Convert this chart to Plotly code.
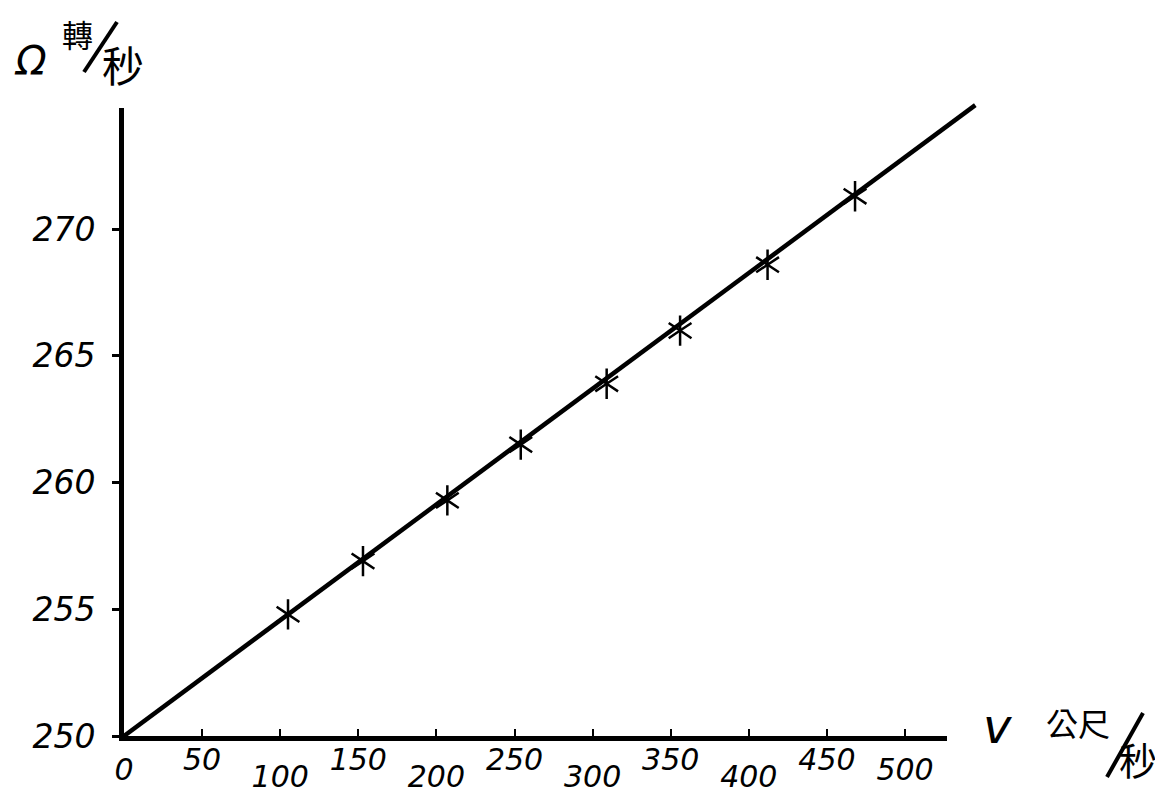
import plotly.graph_objects as go

# ---------------- data ----------------
speed_v = [105, 153, 207, 254, 309, 356, 412, 468]                 # v, 公尺/秒
omega = [254.8, 256.9, 259.3, 261.5, 263.9, 266.0, 268.6, 271.3]   # Ω, 轉/秒
fit_v = [0, 545]
fit_omega = [250, 274.9]

x_labels_high = [50, 150, 250, 350, 450]
x_labels_mid = [0, 500]
x_labels_low = [100, 200, 300, 400]
y_tick_vals = [250, 255, 260, 265, 270]

# ---------------- geometry (reference pixels) ----------------
OFF = 8                      # default page margin of the html body
W_FIG, H_FIG = 1163 - 10, 801 - 16
plot_left, plot_right = 124, 980
plot_top, plot_bottom = 100, 736
L = plot_left - OFF
R = W_FIG - (plot_right - OFF)
T = plot_top - OFF
B = H_FIG - (plot_bottom - OFF)
PW, PH = W_FIG - L - R, H_FIG - T - B

X_MAX = 548.0
Y_MIN, Y_MAX = 250.0, 275.1
x_axis_end = 527.0
y_axis_end = 274.8
dx = x_axis_end / X_MAX
dy = (y_axis_end - Y_MIN) / (Y_MAX - Y_MIN)

def px(xp):
    return (xp - OFF - L) / PW

def py(yp):
    return (H_FIG - B - (yp - OFF)) / PH

FONT = "DejaVu Sans"
CJK = "Noto Sans CJK TC"

fig = go.Figure()

fig.add_trace(go.Scatter(x=fit_v, y=fit_omega, mode="lines",
                         line=dict(color="black", width=4.5),
                         xaxis="x", yaxis="y", showlegend=False, hoverinfo="skip"))
for sym in ["y-up-open", "y-down-open"]:
    fig.add_trace(go.Scatter(x=speed_v, y=omega, mode="markers",
                             marker=dict(symbol=sym, size=19, color="black",
                                         line=dict(color="black", width=2.5)),
                             xaxis="x", yaxis="y", showlegend=False))
for xa in ["x2", "x3", "x4"]:
    fig.add_trace(go.Scatter(x=[None], y=[None], xaxis=xa, yaxis="y2",
                             showlegend=False, hoverinfo="skip"))

x_font = dict(family=FONT, size=30, color="black", style="italic")
y_font = dict(family=FONT, size=33, color="black", style="italic")

common_x = dict(range=[0, x_axis_end], anchor="y2", showgrid=False, zeroline=False,
                automargin=False,
                ticks="inside", ticklen=7, tickwidth=2, tickcolor="black",
                tickfont=x_font)

fig.update_layout(
    width=W_FIG, height=H_FIG, autosize=False,
    margin=dict(l=L, r=R, t=T, b=B, autoexpand=False),
    paper_bgcolor="white", plot_bgcolor="rgba(0,0,0,0)",
    showlegend=False,
    xaxis=dict(domain=[0, 1], range=[0, X_MAX], visible=False, anchor="y",
               automargin=False),
    yaxis=dict(domain=[0, 1], range=[Y_MIN, Y_MAX], visible=False, anchor="x",
               automargin=False),
    xaxis2=dict(domain=[0, dx], showline=True, linecolor="black", linewidth=5,
                tickvals=x_labels_high, ticktext=[str(v) for v in x_labels_high],
                ticklabelstandoff=-7, **common_x),
    xaxis3=dict(overlaying="x2", showline=False,
                tickvals=x_labels_mid, ticktext=[str(v) for v in x_labels_mid],
                ticklabelstandoff=13, **common_x),
    xaxis4=dict(overlaying="x2", showline=False,
                tickvals=x_labels_low, ticktext=[str(v) for v in x_labels_low],
                ticklabelstandoff=20, **common_x),
    yaxis2=dict(domain=[0, dy], range=[Y_MIN, y_axis_end], anchor="x2",
                showline=True, linecolor="black", linewidth=5,
                showgrid=False, zeroline=False, automargin=False,
                ticks="outside", ticklen=7, tickwidth=3, tickcolor="black",
                tickvals=y_tick_vals, ticktext=[str(v) for v in y_tick_vals],
                tickfont=y_font, ticklabelstandoff=10),
)

def note(text, xp, yp, size, family=FONT, italic=False):
    fig.add_annotation(text=text, x=px(xp), y=py(yp), xref="paper", yref="paper",
                       xanchor="center", yanchor="middle", showarrow=False,
                       font=dict(family=family, size=size, color="black",
                                 style="italic" if italic else "normal"))

def slash(x0, y0, x1, y1):
    fig.add_shape(type="line", xref="paper", yref="paper",
                  x0=px(x0), y0=py(y0), x1=px(x1), y1=py(y1),
                  line=dict(color="black", width=4))

# y-axis title: Ω 轉/秒
note("Ω", 30, 61, 40, italic=True)
note("轉", 77, 34, 31, family=CJK)
slash(84, 72, 117, 22)
note("秒", 123, 63, 42, family=CJK)

# x-axis title: v 公尺/秒
note("v", 997, 726, 48, italic=True)
note("公尺", 1078, 722, 32, family=CJK)
slash(1107, 777, 1143, 713)
note("秒", 1138, 758, 38, family=CJK)

fig.write_html("out.html")
